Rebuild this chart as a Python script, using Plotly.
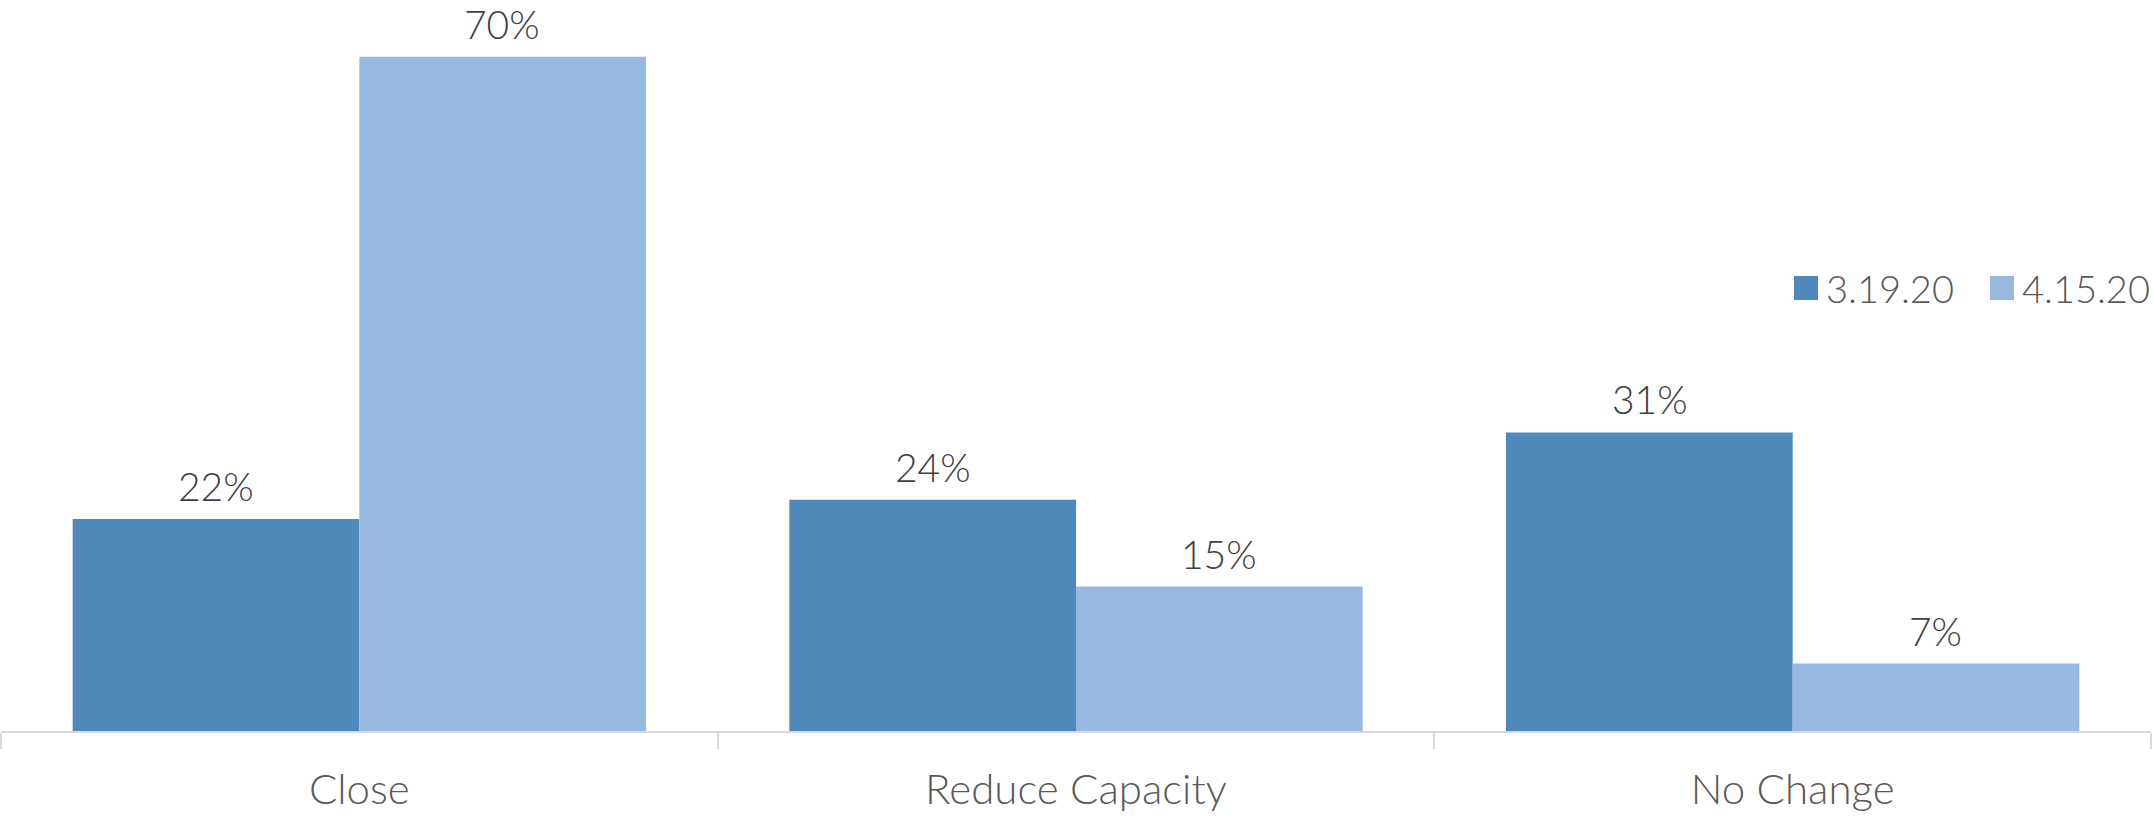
import plotly.graph_objects as go

categories = ["Close", "Reduce Capacity", "No Change"]
series_names = ["3.19.20", "4.15.20"]
values_0319 = [0.22, 0.24, 0.31]
values_0415 = [0.70, 0.15, 0.07]
colors = ["#4F89BC", "#98B9DF"]

FONT = "Lato"
W, H = 2153, 816
L, R, T, B = 1, 2, 0, 85
PW = W - L - R

fig = go.Figure()
for name, vals, col in zip(series_names, [values_0319, values_0415], colors):
    fig.add_trace(go.Bar(
        x=categories, y=vals, name=name,
        marker=dict(color=col, line=dict(width=0)),
        hoverinfo="skip", showlegend=False,
    ))

# data labels above each bar
bar_px = 286
for i, vals in enumerate([values_0319, values_0415]):
    shift = -bar_px / 2 if i == 0 else bar_px / 2
    for c, v in zip(categories, vals):
        fig.add_annotation(
            x=c, y=v, text=f"{round(v*100)}%", showarrow=False,
            xref="x", yref="y", xanchor="center", yanchor="bottom",
            xshift=shift, yshift=8,
            font=dict(family=FONT, size=39, color="#404040", weight=300),
        )

# legend (square swatches + labels)
def px_to_paper(px):
    return (px - L) / PW

leg_y = (731 - 288) / 731
sq = 24
leg_x0 = [1794, 1990]
for name, col, x0 in zip(series_names, colors, leg_x0):
    fig.add_shape(
        type="rect", xref="paper", yref="paper",
        x0=px_to_paper(x0), x1=px_to_paper(x0 + sq),
        y0=leg_y - (sq / 2) / 731, y1=leg_y + (sq / 2) / 731,
        fillcolor=col, line=dict(width=0),
    )
    fig.add_annotation(
        x=px_to_paper(x0 + sq + 6), y=leg_y, xref="paper", yref="paper",
        text=name, showarrow=False, xanchor="left", yanchor="middle",
        font=dict(family=FONT, size=38, color="#595959", weight=300),
    )

fig.update_layout(
    width=W, height=H,
    margin=dict(l=L, r=R, t=T, b=B, autoexpand=False),
    paper_bgcolor="white", plot_bgcolor="white",
    barmode="group", bargap=0.2, bargroupgap=0,
    font=dict(family=FONT, color="#595959"),
    showlegend=False,
    xaxis=dict(
        showline=True, linecolor="#D9D9D9", linewidth=2,
        ticks="outside", tickcolor="#D9D9D9", ticklen=16, tickwidth=2,
        tickson="boundaries", ticklabelstandoff=21,
        tickfont=dict(family=FONT, size=42, color="#595959", weight=300),
        showgrid=False, zeroline=False,
    ),
    yaxis=dict(
        range=[0, 0.759], visible=False, showgrid=False, zeroline=False,
    ),
)

fig.write_html("out.html")
